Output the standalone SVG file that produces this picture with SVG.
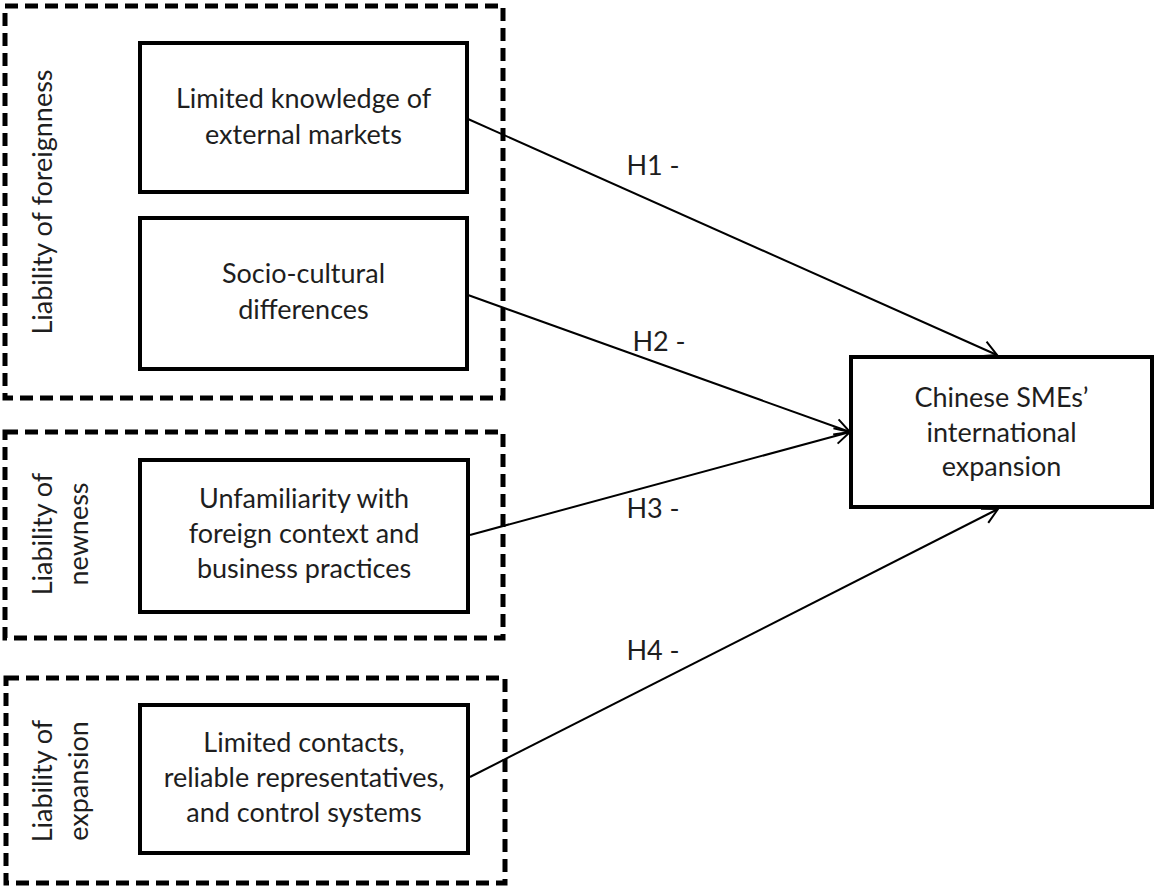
<svg xmlns="http://www.w3.org/2000/svg" width="1155" height="889" viewBox="0 0 1155 889">
<defs>
<style>
.grp{fill:none;stroke:#000;stroke-width:5;stroke-dasharray:13 7}
.box{fill:#fff;stroke:#000;stroke-width:4}
.t{font-family:Lato,"Liberation Sans",sans-serif;font-size:27px;fill:#1e1e1e;text-anchor:middle}
.c{fill:none;stroke:#000;stroke-width:2}
</style>
<marker id="ah" markerUnits="userSpaceOnUse" markerWidth="30" markerHeight="30" viewBox="-20 -15 30 30" refX="0" refY="0" orient="auto">
<path d="M -15 -8 L 0 0 L -15 8" fill="none" stroke="#000" stroke-width="2"/>
</marker>
</defs>
<rect width="1155" height="889" fill="#fff"/>
<g id="grp-foreignness">
<rect class="grp" x="5" y="6" width="498" height="392"/>
<text class="t" transform="translate(52,202) rotate(-90)">Liability of foreignness</text>
</g>
<g id="grp-newness">
<rect class="grp" x="5" y="432" width="498" height="206"/>
<text class="t" transform="translate(52,534) rotate(-90)">Liability of</text>
<text class="t" transform="translate(88,534) rotate(-90)">newness</text>
</g>
<g id="grp-expansion">
<rect class="grp" x="6" y="678" width="499" height="205"/>
<text class="t" transform="translate(52,781) rotate(-90)">Liability of</text>
<text class="t" transform="translate(88,781) rotate(-90)">expansion</text>
</g>
<g id="connectors">
<line class="c" x1="468" y1="119" x2="997" y2="355" marker-end="url(#ah)"/>
<line class="c" x1="468" y1="295" x2="850" y2="432" marker-end="url(#ah)"/>
<line class="c" x1="470" y1="535" x2="850" y2="432" marker-end="url(#ah)"/>
<line class="c" x1="470" y1="777" x2="998" y2="509" marker-end="url(#ah)"/>
<text class="t" x="653" y="175">H1 -</text>
<text class="t" x="659" y="351">H2 -</text>
<text class="t" x="653" y="518">H3 -</text>
<text class="t" x="653" y="660">H4 -</text>
</g>
<g id="n-knowledge">
<rect class="box" x="140" y="43" width="327" height="149"/>
<text class="t" x="303.5" y="108">Limited knowledge of</text>
<text class="t" x="303.5" y="144">external markets</text>
</g>
<g id="n-sociocultural">
<rect class="box" x="140" y="218" width="327" height="151"/>
<text class="t" x="303.5" y="283">Socio-cultural</text>
<text class="t" x="303.5" y="319">differences</text>
</g>
<g id="n-unfamiliarity">
<rect class="box" x="140" y="460" width="328" height="152"/>
<text class="t" x="304" y="508">Unfamiliarity with</text>
<text class="t" x="304" y="543">foreign context and</text>
<text class="t" x="304" y="578">business practices</text>
</g>
<g id="n-contacts">
<rect class="box" x="140" y="705" width="328" height="148"/>
<text class="t" x="304" y="752">Limited contacts,</text>
<text class="t" x="304" y="787">reliable representatives,</text>
<text class="t" x="304" y="822">and control systems</text>
</g>
<g id="n-target">
<rect class="box" x="851" y="357" width="301" height="150"/>
<text class="t" x="1001.5" y="407">Chinese SMEs’</text>
<text class="t" x="1001.5" y="442">international</text>
<text class="t" x="1001.5" y="476">expansion</text>
</g>
</svg>
